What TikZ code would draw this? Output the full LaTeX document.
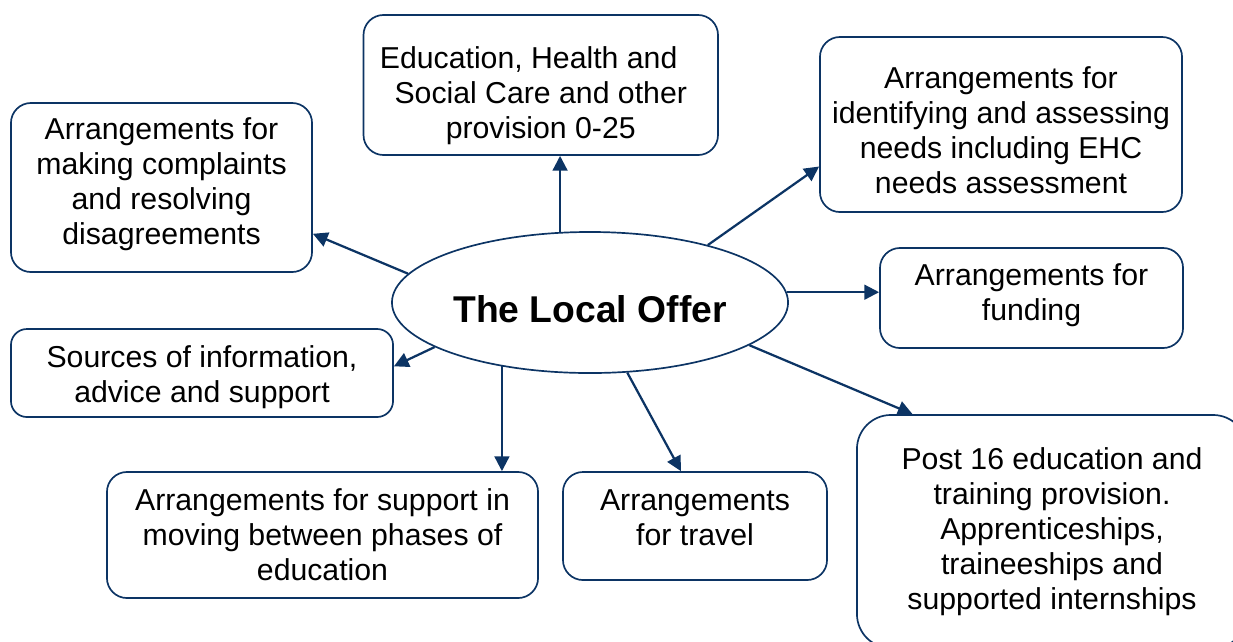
\documentclass[tikz,border=0pt]{standalone}
\usepackage{fontspec}
\setmainfont{Liberation Sans}
\usetikzlibrary{arrows.meta, positioning, shapes, calc}
\definecolor{navy}{RGB}{12,52,100}
\newcommand{\padtop}[1]{\rule{0pt}{#1}}
\newcommand{\padbot}[1]{\rule[-#1]{0pt}{#1}}
\tikzset{
  box/.style={draw=navy, line width=1.2pt, rectangle, rounded corners=0.5cm, align=center, inner sep=0pt, font=\fontsize{21.5}{24.9}\selectfont},
  hub/.style={draw=navy, line width=1.2pt, ellipse, inner sep=0pt, minimum width=9.9cm, minimum height=3.525cm, font=\fontsize{26.5}{30}\selectfont\bfseries},
  link/.style={-{Triangle[length=10.5pt, width=10.5pt]}, line width=1.6pt, navy},
}

\begin{document}
\begin{tikzpicture}[x=0.025cm, y=-0.025cm]
  \useasboundingbox (0,0) rectangle (1233,641);
  \node[hub] (lo) at (590,302.5) {\padtop{28pt}The Local Offer};
  \node[box, minimum width=8.86cm, minimum height=3.5cm] (edu) at (540.75,85) {\padtop{31.3pt}Education, Health and\hspace*{0.8em}\\Social Care and other\\provision 0-25};
  \node[box, minimum width=9.05cm, minimum height=4.375cm] (assess) at (1001,124.5) {\padtop{24.2pt}Arrangements for\\identifying and assessing\\needs including EHC\\needs assessment};
  \node[box, minimum width=7.525cm, minimum height=4.225cm] (comp) at (161.5,187.5) {Arrangements for\\making complaints\\and resolving\\disagreements\padbot{8.8pt}};
  \node[box, minimum width=7.575cm, minimum height=2.5cm] (fund) at (1031.5,298) {Arrangements for\\funding\padbot{8.1pt}};
  \node[box, rounded corners=0.4cm, minimum width=9.55cm, minimum height=2.2cm] (info) at (202,373) {\padtop{21.4pt}Sources of information,\\advice and support};
  \node[box, rounded corners=0.85cm, minimum width=9.75cm, minimum height=5.825cm] (post) at (1052,531.5) {Post 16 education and\\training provision.\\Apprenticeships,\\traineeships and\\supported internships};
  \node[box, minimum width=10.775cm, minimum height=3.15cm] (move) at (322.5,535) {Arrangements for support in\\moving between phases of\\education};
  \node[box, minimum width=6.6cm, minimum height=2.7cm] (travel) at (695,526) {Arrangements\\for travel\padbot{11.4pt}};

  \draw[link] (lo.113) -- (lo.113 |- edu.south);
  \draw[link] (lo.26) -- (assess.193.5);
  \draw[link] (lo.171.7) -- (comp.343);
  \draw[link] (lo.3) -- (lo.3 -| fund.west);
  \draw[link] (lo.196.5) -- (info.2.7);
  \draw[link] (lo.345) -- ($(post.north west)!0.144!(post.north east)$);
  \draw[link] (lo.216.8) -- (lo.216.8 |- move.north);
  \draw[link] (lo.298) -- ($(travel.north west)!0.447!(travel.north east)$);
\end{tikzpicture}
\end{document}
